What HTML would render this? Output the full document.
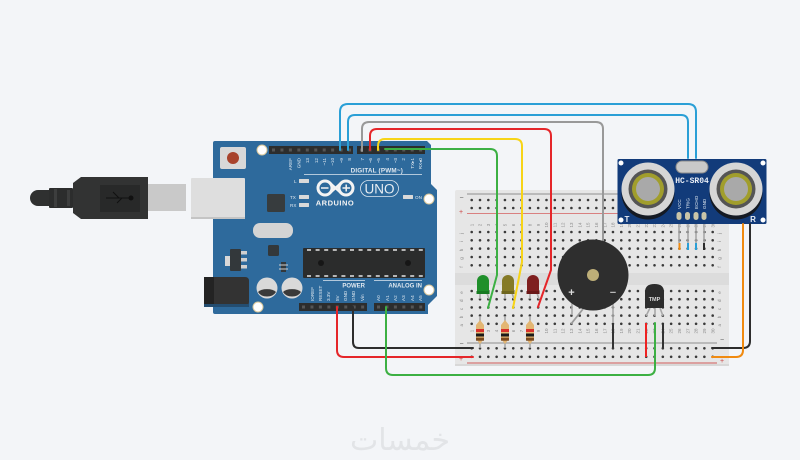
<!DOCTYPE html>
<html><head><meta charset="utf-8"><style>
html,body{margin:0;padding:0;background:#f3f5f8}
svg{display:block}
text{font-family:"Liberation Sans",sans-serif}
.h{stroke:#3a3a3a;stroke-width:2.6;stroke-linecap:round;stroke-dasharray:0 8.31;fill:none}
.w{fill:none;stroke-width:2;stroke-linecap:round;stroke-linejoin:round}
.n text{font-size:4.5px;fill:#8a8a8a;text-anchor:middle}
.a text{fill:#dfe8f0;font-size:4.6px;text-anchor:start}
.t text{text-anchor:end}
.l{stroke:#a8a8a8;stroke-width:1.6;fill:none}
</style></head><body>
<svg width="800" height="460" viewBox="0 0 800 460" xmlns="http://www.w3.org/2000/svg">
<rect width="800" height="460" fill="#f3f5f8"/>

<!-- USB cable -->
<path d="M38 190H49V206H38a8 8 0 0 1 0-16z" fill="#2f3030"/>
<rect x="49" y="188" width="24" height="20" rx="1" fill="#2c2d2d"/>
<rect x="54" y="189" width="3" height="18" fill="#3d3e3e"/><rect x="67" y="190" width="3" height="16" fill="#3d3e3e"/>
<path d="M73 183L81 177H148V219H81L73 213z" fill="#323333"/>
<rect x="100" y="185" width="40" height="27" fill="#282929"/>
<path d="M106 198H130M113 192L119 198M117 203L122 198" stroke="#111" stroke-width="1" fill="none"/><circle cx="131" cy="198" r="2.5" fill="#111"/>
<rect x="148" y="184" width="38" height="27" fill="#c9c9c9"/>

<!-- Arduino -->
<path d="M215 141H427L431 145V184L437 190V296L428 305V314H215Q213 314 213 312V143Q213 141 215 141z" fill="#2e6a9c"/>
<rect x="191" y="178" width="54" height="40" rx="1" fill="#dedede"/>
<rect x="191" y="217" width="54" height="2" fill="#c4c4c4"/>
<rect x="220" y="147" width="26" height="22" rx="2" fill="#d8d8d8"/>
<circle cx="233" cy="158" r="6" fill="#a8432c"/>
<circle cx="262" cy="150" r="5" fill="#fff" stroke="#d9c79a"/>
<circle cx="258" cy="307" r="5" fill="#fff" stroke="#d9c79a"/>
<circle cx="429" cy="290" r="5" fill="#fff" stroke="#d9c79a"/>
<circle cx="429" cy="199" r="5" fill="#fff" stroke="#d9c79a"/>

<!-- Headers -->
<rect x="269" y="146" width="84" height="8" fill="#2c2d2d"/>
<rect x="357" y="146" width="68" height="8" fill="#2c2d2d"/>
<rect x="299" y="303" width="68" height="8" fill="#2c2d2d"/>
<rect x="374" y="303" width="51" height="8" fill="#2c2d2d"/>
<g stroke="#555" stroke-width="3" stroke-dasharray="3 5.45" fill="none">
<line x1="272" y1="150" x2="353" y2="150"/><line x1="360" y1="150" x2="425" y2="150"/>
<line x1="302" y1="307" x2="367" y2="307"/><line x1="377" y1="307" x2="425" y2="307"/>
</g>

<!-- Top pin labels -->
<g class="a t" style="font-size:5px">
<text transform="translate(292,158) rotate(-90)">AREF</text>
<text transform="translate(300.500,158) rotate(-90)">GND</text>
<text transform="translate(309,158) rotate(-90)">13</text>
<text transform="translate(318,158) rotate(-90)">12</text>
<text transform="translate(326,158) rotate(-90)">~11</text>
<text transform="translate(334,158) rotate(-90)">~10</text>
<text transform="translate(343,158) rotate(-90)">~9</text>
<text transform="translate(351,158) rotate(-90)">8</text>
<text transform="translate(364,158) rotate(-90)">7</text>
<text transform="translate(372,158) rotate(-90)">~6</text>
<text transform="translate(380,158) rotate(-90)">~5</text>
<text transform="translate(389,158) rotate(-90)">4</text>
<text transform="translate(397,158) rotate(-90)">~3</text>
<text transform="translate(405,158) rotate(-90)">2</text>
<text transform="translate(414,158) rotate(-90)">TX▸1</text>
<text transform="translate(422,158) rotate(-90)">RX◂0</text>
</g>
<text x="403" y="172.500" font-size="6.3" font-weight="bold" fill="#dfe8f0" text-anchor="end" style="letter-spacing:.2px">DIGITAL (PWM~)</text>
<line x1="304" y1="174.500" x2="422" y2="174.500" stroke="#dfe8f0" stroke-width=".8"/>

<!-- LEDs on board -->
<g fill="#d9d9d9">
<rect x="299" y="179" width="10" height="4" rx=".5"/>
<rect x="299" y="195" width="10" height="4" rx=".5"/>
<rect x="299" y="203" width="10" height="4" rx=".5"/>
<rect x="403" y="195" width="10" height="4" rx=".5"/>
</g>
<g fill="#dfe8f0" font-size="4.6">
<text x="294" y="183">L</text><text x="290" y="199">TX</text><text x="290" y="207">RX</text><text x="415" y="199">ON</text>
</g>

<!-- Arduino logo -->
<g fill="none" stroke="#f3f3f3" stroke-width="3">
<circle cx="325" cy="188" r="7"/><circle cx="346" cy="188" r="7"/>
<path d="M330 183L341 193M330 193L341 183" stroke-width="2.500"/>
</g>
<path d="M321 188h7.500M342.500 188h7.500M346.200 184.500v7" stroke="#f3f3f3" stroke-width="1.500"/>
<text x="335" y="205.500" font-size="7.500" font-weight="bold" fill="#f3f3f3" text-anchor="middle" style="letter-spacing:.5px">ARDUINO</text>
<rect x="360.500" y="180.500" width="38" height="16" rx="8" fill="none" stroke="#dfe8f0" stroke-width=".8"/>
<text x="379.500" y="193.500" font-size="13.500" fill="#e8eef3" text-anchor="middle">UNO</text>

<!-- Board parts -->
<rect x="267" y="194" width="18" height="18" rx="1.500" fill="#373c3e"/>
<rect x="253" y="223" width="40" height="15" rx="7" fill="#d4d4d4"/>
<rect x="268" y="245" width="11" height="11" rx="1.500" fill="#33383b"/>
<rect x="225" y="256" width="6" height="10" fill="#d8d8d8"/>
<rect x="230" y="249" width="11" height="22" rx="1" fill="#33383b"/>
<rect x="241" y="251" width="6" height="3.500" fill="#d0d0d0"/><rect x="241" y="258" width="6" height="3.500" fill="#d0d0d0"/><rect x="241" y="265" width="6" height="3.500" fill="#d0d0d0"/>
<rect x="281" y="262" width="5" height="10" fill="#33383b"/>
<path d="M279 265h9M279 269h9" stroke="#d0d0d0" stroke-width="1"/>
<rect x="303" y="248" width="122" height="30" rx="1" fill="#2b2c2c"/>
<path d="M307 250H423M307 276H423" stroke="#e4e4e4" stroke-width="1.500" stroke-dasharray="4 4.600"/>
<circle cx="321" cy="263" r="3" fill="#161616"/><circle cx="408" cy="263" r="3" fill="#161616"/>
<path d="M204 277H245Q249 277 249 281V302Q249 306 245 306H204z" fill="#333"/>
<rect x="204" y="277" width="10" height="29" fill="#232323"/>
<rect x="204" y="304" width="45" height="3" fill="#244d70"/>
<circle cx="267" cy="288" r="10.500" fill="#d9d9d9"/><path d="M258 292a10 5 0 0 1 18 0a10 8 0 0 1-18 0z" fill="#3a3a3a"/>
<circle cx="292" cy="288" r="10.500" fill="#d9d9d9"/><path d="M283 292a10 5 0 0 1 18 0a10 8 0 0 1-18 0z" fill="#3a3a3a"/>

<!-- Bottom labels -->
<text x="365" y="287.500" font-size="6" font-weight="bold" fill="#dfe8f0" text-anchor="end">POWER</text>
<text x="422" y="287.500" font-size="6" font-weight="bold" fill="#dfe8f0" text-anchor="end">ANALOG IN</text>
<path d="M323 280.500H365M374 280.500H422" stroke="#dfe8f0" stroke-width=".8"/>
<g class="a" style="font-size:4px">
<text transform="translate(314,301) rotate(-90)">IOREF</text>
<text transform="translate(322,301) rotate(-90)">RESET</text>
<text transform="translate(330,301) rotate(-90)">3.3V</text>
<text transform="translate(339,301) rotate(-90)">5V</text>
<text transform="translate(347,301) rotate(-90)">GND</text>
<text transform="translate(355,301) rotate(-90)">GND</text>
<text transform="translate(364,301) rotate(-90)">Vin</text>
<text transform="translate(380,301) rotate(-90)">A0</text>
<text transform="translate(389,301) rotate(-90)">A1</text>
<text transform="translate(397,301) rotate(-90)">A2</text>
<text transform="translate(405,301) rotate(-90)">A3</text>
<text transform="translate(414,301) rotate(-90)">A4</text>
<text transform="translate(422,301) rotate(-90)">A5</text>
</g>

<!-- Breadboard -->
<rect x="455" y="190" width="274" height="176" rx="2" fill="#e6e6e6"/>
<rect x="455" y="273" width="274" height="12" fill="#dcdcdc"/>
<rect x="455" y="364" width="274" height="2" fill="#d8d8d8"/>
<line x1="467" y1="194" x2="717" y2="194" stroke="#8f8f8f" stroke-width="1"/>
<line x1="467" y1="213.500" x2="717" y2="213.500" stroke="#d98080" stroke-width="1"/>
<line x1="467" y1="343" x2="717" y2="343" stroke="#8f8f8f" stroke-width="1"/>
<line x1="467" y1="363" x2="717" y2="363" stroke="#d05a5a" stroke-width="1"/>
<g class="h">
<line x1="471.700" y1="200" x2="713" y2="200"/><line x1="471.700" y1="208" x2="713" y2="208"/>
<line x1="471.700" y1="232" x2="713" y2="232"/><line x1="471.700" y1="240.300" x2="713" y2="240.300"/><line x1="471.700" y1="248.600" x2="713" y2="248.600"/><line x1="471.700" y1="257" x2="713" y2="257"/><line x1="471.700" y1="265.300" x2="713" y2="265.300"/>
<line x1="471.700" y1="291" x2="713" y2="291"/><line x1="471.700" y1="299.200" x2="713" y2="299.200"/><line x1="471.700" y1="307.400" x2="713" y2="307.400"/><line x1="471.700" y1="315.600" x2="713" y2="315.600"/><line x1="471.700" y1="323.800" x2="713" y2="323.800"/>
<line x1="471.700" y1="348.300" x2="713" y2="348.300"/><line x1="471.700" y1="356.800" x2="713" y2="356.800"/>
</g>
<g font-size="7" fill="#555">
<text x="459.500" y="200">−</text><text x="459" y="214" fill="#c44">+</text>
<text x="720" y="342">−</text><text x="720" y="363" fill="#c44">+</text>
<text x="459.500" y="346">−</text><text x="459" y="361" fill="#c44">+</text>
</g>
<g class="n" style="font-size:5.500px">
<text transform="translate(463,233.500) rotate(-90)">j</text><text transform="translate(463,241.800) rotate(-90)">i</text><text transform="translate(463,250) rotate(-90)">h</text><text transform="translate(463,258.500) rotate(-90)">g</text><text transform="translate(463,267) rotate(-90)">f</text>
<text transform="translate(463,292.500) rotate(-90)">e</text><text transform="translate(463,300.700) rotate(-90)">d</text><text transform="translate(463,309) rotate(-90)">c</text><text transform="translate(463,317) rotate(-90)">b</text><text transform="translate(463,325.300) rotate(-90)">a</text>
<text transform="translate(721,233.500) rotate(-90)">j</text><text transform="translate(721,241.800) rotate(-90)">i</text><text transform="translate(721,250) rotate(-90)">h</text><text transform="translate(721,258.500) rotate(-90)">g</text><text transform="translate(721,267) rotate(-90)">f</text>
<text transform="translate(721,292.500) rotate(-90)">e</text><text transform="translate(721,300.700) rotate(-90)">d</text><text transform="translate(721,309) rotate(-90)">c</text><text transform="translate(721,317) rotate(-90)">b</text><text transform="translate(721,325.300) rotate(-90)">a</text>
</g>
<g class="n">
<text transform="translate(473.300,225) rotate(-90)">1</text><text transform="translate(481.600,225) rotate(-90)">2</text><text transform="translate(489.900,225) rotate(-90)">3</text><text transform="translate(498.200,225) rotate(-90)">4</text><text transform="translate(506.500,225) rotate(-90)">5</text><text transform="translate(514.900,225) rotate(-90)">6</text><text transform="translate(523.200,225) rotate(-90)">7</text><text transform="translate(531.500,225) rotate(-90)">8</text><text transform="translate(539.800,225) rotate(-90)">9</text><text transform="translate(548.100,225) rotate(-90)">10</text><text transform="translate(556.400,225) rotate(-90)">11</text><text transform="translate(564.700,225) rotate(-90)">12</text><text transform="translate(573,225) rotate(-90)">13</text><text transform="translate(581.300,225) rotate(-90)">14</text><text transform="translate(589.600,225) rotate(-90)">15</text><text transform="translate(597.900,225) rotate(-90)">16</text><text transform="translate(606.300,225) rotate(-90)">17</text><text transform="translate(614.600,225) rotate(-90)">18</text><text transform="translate(622.900,225) rotate(-90)">19</text><text transform="translate(631.200,225) rotate(-90)">20</text><text transform="translate(639.500,225) rotate(-90)">21</text><text transform="translate(647.800,225) rotate(-90)">22</text><text transform="translate(656.100,225) rotate(-90)">23</text><text transform="translate(664.400,225) rotate(-90)">24</text><text transform="translate(672.700,225) rotate(-90)">25</text><text transform="translate(681,225) rotate(-90)">26</text><text transform="translate(689.400,225) rotate(-90)">27</text><text transform="translate(697.700,225) rotate(-90)">28</text><text transform="translate(706,225) rotate(-90)">29</text><text transform="translate(714.300,225) rotate(-90)">30</text>
<text transform="translate(473.300,331) rotate(-90)">1</text><text transform="translate(481.600,331) rotate(-90)">2</text><text transform="translate(489.900,331) rotate(-90)">3</text><text transform="translate(498.200,331) rotate(-90)">4</text><text transform="translate(506.500,331) rotate(-90)">5</text><text transform="translate(514.900,331) rotate(-90)">6</text><text transform="translate(523.200,331) rotate(-90)">7</text><text transform="translate(531.500,331) rotate(-90)">8</text><text transform="translate(539.800,331) rotate(-90)">9</text><text transform="translate(548.100,331) rotate(-90)">10</text><text transform="translate(556.400,331) rotate(-90)">11</text><text transform="translate(564.700,331) rotate(-90)">12</text><text transform="translate(573,331) rotate(-90)">13</text><text transform="translate(581.300,331) rotate(-90)">14</text><text transform="translate(589.600,331) rotate(-90)">15</text><text transform="translate(597.900,331) rotate(-90)">16</text><text transform="translate(606.300,331) rotate(-90)">17</text><text transform="translate(614.600,331) rotate(-90)">18</text><text transform="translate(622.900,331) rotate(-90)">19</text><text transform="translate(631.200,331) rotate(-90)">20</text><text transform="translate(639.500,331) rotate(-90)">21</text><text transform="translate(647.800,331) rotate(-90)">22</text><text transform="translate(656.100,331) rotate(-90)">23</text><text transform="translate(664.400,331) rotate(-90)">24</text><text transform="translate(672.700,331) rotate(-90)">25</text><text transform="translate(681,331) rotate(-90)">26</text><text transform="translate(689.400,331) rotate(-90)">27</text><text transform="translate(697.700,331) rotate(-90)">28</text><text transform="translate(706,331) rotate(-90)">29</text><text transform="translate(714.300,331) rotate(-90)">30</text>
</g>

<!-- Component legs -->
<g class="l">
<path d="M480 293V299M487 293L489 299"/><path d="M505 293V299M512 293L514 299"/><path d="M530 293V299M537 293L539 299"/>
<path d="M480 316V348M505 316V348M530 316V348"/>
<path d="M572 298V315"/><path d="M613 298V323"/>
<path d="M650 308L646 316M655 308V316M660 308L663 316"/>
<path d="M679 224V243M688 224V243M696 224V243M704 224V243"/>
</g>
<line x1="583" y1="309" x2="571" y2="324" stroke="#9a9a9a" stroke-width="1.800"/>

<!-- LEDs -->
<path d="M477 293V281a6 6 0 0 1 12 0V293z" fill="#1f8f2a"/><rect x="476.500" y="291" width="13" height="3" fill="#187a22"/>
<path d="M502 293V281a6 6 0 0 1 12 0V293z" fill="#857a26"/><rect x="501.500" y="291" width="13" height="3" fill="#6f661e"/>
<path d="M527 293V281a6 6 0 0 1 12 0V293z" fill="#7f1f1f"/><rect x="526.500" y="291" width="13" height="3" fill="#6a1818"/>

<!-- Resistors -->
<path d="M476 325L480 320L484 325V339L480 344L476 339z" fill="#e3b673"/>
<rect x="476" y="329" width="8" height="3" fill="#d8302a"/><rect x="476" y="333.500" width="8" height="3" fill="#1a1a1a"/><rect x="476" y="337.700" width="8" height="3" fill="#7a4a1e"/>
<path d="M501 325L505 320L509 325V339L505 344L501 339z" fill="#e3b673"/>
<rect x="501" y="329" width="8" height="3" fill="#d8302a"/><rect x="501" y="333.500" width="8" height="3" fill="#1a1a1a"/><rect x="501" y="337.700" width="8" height="3" fill="#7a4a1e"/>
<path d="M526 325L530 320L534 325V339L530 344L526 339z" fill="#e3b673"/>
<rect x="526" y="329" width="8" height="3" fill="#d8302a"/><rect x="526" y="333.500" width="8" height="3" fill="#1a1a1a"/><rect x="526" y="337.700" width="8" height="3" fill="#7a4a1e"/>

<!-- Gray wire behind buzzer -->
<path class="w" style="stroke:#999" d="M362 151V129Q362 122 369 122H596Q603 122 603 129V242"/>

<!-- Buzzer -->
<circle cx="593" cy="275" r="35.500" fill="#2e2e2e"/>
<circle cx="593" cy="275" r="6" fill="#bdae78"/>
<text x="571.500" y="296" font-size="11" font-weight="bold" fill="#ddd" text-anchor="middle">+</text>
<text x="613" y="296" font-size="11" font-weight="bold" fill="#bbb" text-anchor="middle">−</text>

<!-- TMP -->
<path d="M645 292Q645 284 654.500 284Q664 284 664 292V308H645z" fill="#2c2c2c"/>
<text x="654.500" y="301" font-size="5.500" font-weight="bold" fill="#dcdcdc" text-anchor="middle">TMP</text>

<!-- Short jumpers -->
<line x1="613" y1="323" x2="613" y2="348" stroke="#333" stroke-width="2"/>
<line x1="663" y1="323" x2="663" y2="348" stroke="#333" stroke-width="2"/>
<line x1="646" y1="323" x2="646" y2="357" stroke="#e22" stroke-width="2"/>

<!-- Wires -->
<path class="w" style="stroke:#2a9fd6" d="M340 150V112Q340 104 348 104H688Q696 104 696 112V158"/>
<path class="w" style="stroke:#2a9fd6" d="M348 150V122Q348 115 355 115H681Q688 115 688 122V158"/>
<path class="w" style="stroke:#e5262a" d="M370 150V136Q370 129 377 129H544Q551 129 551 136V270L538 307"/>
<path class="w" style="stroke:#f7d417" d="M378 150V146Q378 139 385 139H515Q522 139 522 146V262L513 308"/>
<path class="w" style="stroke:#3cb043" d="M385 149H490Q497 149 497 156V275L488 308"/>
<path class="w" style="stroke:#e5262a" d="M337 307V350Q337 357 344 357H473"/>
<path class="w" style="stroke:#2d2d2d" d="M353 307V342Q353 348 359 348H473"/>
<path class="w" style="stroke:#3cb043" d="M386 307V368Q386 375 393 375H648Q655 375 655 368V323"/>

<!-- HC-SR04 -->
<rect x="617.500" y="159" width="149" height="65" rx="1.500" fill="#123b7a"/>
<rect x="676" y="161" width="32" height="12" rx="6" fill="#c9c9c9" stroke="#8a8a8a"/>
<circle cx="621" cy="163" r="2.500" fill="#fff"/><circle cx="763" cy="163" r="2.500" fill="#fff"/><circle cx="621" cy="220" r="2.500" fill="#fff"/><circle cx="763" cy="220" r="2.500" fill="#fff"/>
<circle cx="648" cy="193" r="26.500" fill="#141a24"/><circle cx="736" cy="193" r="26.500" fill="#141a24"/>
<circle cx="648" cy="189" r="26.500" fill="#d6d6d6"/><circle cx="736" cy="189" r="26.500" fill="#d6d6d6"/>
<circle cx="648" cy="189" r="19.500" fill="#555"/><circle cx="736" cy="189" r="19.500" fill="#555"/>
<circle cx="648" cy="189" r="16" fill="#a19e2c"/><circle cx="736" cy="189" r="16" fill="#a19e2c"/>
<circle cx="648" cy="189" r="12" fill="#a9a9a9"/><circle cx="736" cy="189" r="12" fill="#a9a9a9"/>
<text x="692" y="183" font-size="8" font-weight="bold" fill="#e8edf5" text-anchor="middle" style="font-family:'Liberation Mono',monospace">HC-SR04</text>
<text x="627" y="222" font-size="8" font-weight="bold" fill="#e8edf5" text-anchor="middle">T</text>
<text x="753" y="222" font-size="8" font-weight="bold" fill="#e8edf5" text-anchor="middle">R</text>
<g fill="#c8c4a8"><rect x="676.500" y="212" width="5" height="8" rx="2.500"/><rect x="685" y="212" width="5" height="8" rx="2.500"/><rect x="693.500" y="212" width="5" height="8" rx="2.500"/><rect x="701.500" y="212" width="5" height="8" rx="2.500"/></g>
<g class="a" style="font-size:3.800px">
<text transform="translate(681,209) rotate(-90)">VCC</text><text transform="translate(689.500,209) rotate(-90)">TRIG</text><text transform="translate(698,209) rotate(-90)">ECHO</text><text transform="translate(706,209) rotate(-90)">GND</text>
</g>
<line x1="679.500" y1="243" x2="679.500" y2="250" stroke="#f08a10" stroke-width="2"/>
<line x1="688" y1="243" x2="688" y2="250" stroke="#2a9fd6" stroke-width="2"/>
<line x1="696" y1="243" x2="696" y2="250" stroke="#2a9fd6" stroke-width="2"/>
<line x1="704" y1="243" x2="704" y2="250" stroke="#2d2d2d" stroke-width="2"/>
<path class="w" style="stroke:#2d2d2d" d="M712 348H743Q750 348 750 341V224"/>
<path class="w" style="stroke:#f08a10" d="M712 357H736Q743 357 743 350V224"/>

<!-- Watermark -->
<text x="400" y="450" font-size="30" fill="#e2e4e7" text-anchor="middle" direction="rtl" style="font-family:'DejaVu Sans',sans-serif">خمسات</text>
</svg>
</body></html>
